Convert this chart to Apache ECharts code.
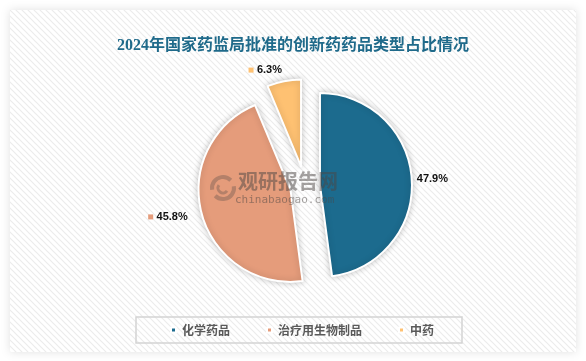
<!DOCTYPE html>
<html><head><meta charset="utf-8">
<script src="https://cdn.jsdelivr.net/npm/echarts@6/dist/echarts.min.js"></script>
<style>html,body{margin:0;padding:0;background:#fff}#c{width:586px;height:361px}</style>
</head><body><div id="c"></div>
<script>
const categories = ['化学药品', '治疗用生物制品', '中药'];
const shares = [47.9, 45.8, 6.3];
const colors = ['#1c6b8e', '#e59c7b', '#fec172'];
const titleText = '2024年国家药监局批准的创新药药品类型占比情况';

// striped card fill
const pc = document.createElement('canvas');
pc.width = 6; pc.height = 6;
const g = pc.getContext('2d');
g.fillStyle = '#ffffff'; g.fillRect(0, 0, 6, 6);
g.strokeStyle = '#ececec'; g.lineWidth = 1.2;
g.beginPath();
g.moveTo(-1, -1); g.lineTo(7, 7);
g.moveTo(-1, 5); g.lineTo(1, 7);
g.moveTo(5, -1); g.lineTo(7, 1);
g.stroke();

const chart = echarts.init(document.getElementById('c'), null, { renderer: 'canvas' });

function pieData(visibleIdx) {
  return categories.map((name, i) => ({
    name: name,
    value: shares[i],
    selected: visibleIdx.indexOf(i) >= 0,
    itemStyle: visibleIdx.indexOf(i) >= 0 ? { color: colors[i] } : { color: colors[i], opacity: 0 },
    label: { show: visibleIdx.indexOf(i) >= 0 }
  }));
}

const rich = {
  v: { fontFamily: 'Liberation Sans', fontWeight: 'bold', fontSize: 11, color: '#111' },
  m1: { width: 5, height: 5, backgroundColor: colors[1] },
  m2: { width: 5, height: 5, backgroundColor: colors[2] }
};
const labelFmt = p => (p.dataIndex === 0 ? '' : '{m' + p.dataIndex + '|} ') + '{v|' + p.value.toFixed(1) + '%}';
// label nudges (style only)
const labelNudge = { '0-1': [-9, 3], '1-2': [3, -11] };

const baseSeries = {
  type: 'pie',
  center: [305, 186],
  startAngle: 90,
  clockwise: true,
  selectedMode: 'multiple',
  avoidLabelOverlap: false,
  silent: true,
  itemStyle: { borderColor: '#ffffff', borderWidth: 2, shadowBlur: 6, shadowColor: 'rgba(0,0,0,0.22)' },
  label: { position: 'outside', formatter: labelFmt, rich: rich },
  labelLine: { show: false, length: 0, length2: 0 },
  labelLayout: p => {
    const n = labelNudge[p.seriesIndex + '-' + p.dataIndex];
    return n ? { dx: n[0], dy: n[1] } : {};
  },
  emphasis: { disabled: true }
};

const wm = 'rgba(75,70,68,0.5)';
chart.setOption({
  animation: false,
  backgroundColor: '#ffffff',
  graphic: [
    {
      type: 'rect', z: -10, silent: true,
      shape: { x: 10, y: 10, width: 566, height: 342 },
      style: { fill: { image: pc, repeat: 'repeat' }, shadowBlur: 10, shadowColor: 'rgba(0,0,0,0.12)' }
    },
    {
      type: 'arc', z: 100, silent: true,
      shape: { cx: 223, cy: 188, r: 11, startAngle: Math.PI * 0.95, endAngle: Math.PI * 1.75 },
      style: { stroke: 'rgba(120,95,85,0.45)', lineWidth: 4, fill: null }
    },
    {
      type: 'arc', z: 100, silent: true,
      shape: { cx: 223, cy: 188, r: 11, startAngle: Math.PI * -0.05, endAngle: Math.PI * 0.75 },
      style: { stroke: 'rgba(120,95,85,0.45)', lineWidth: 4, fill: null }
    },
    {
      type: 'arc', z: 100, silent: true,
      shape: { cx: 223, cy: 188, r: 5, startAngle: Math.PI * 0.2, endAngle: Math.PI * 1.2 },
      style: { stroke: 'rgba(120,95,85,0.45)', lineWidth: 3, fill: null }
    },
    {
      type: 'text', z: 100, silent: true, left: 238, top: 171,
      style: { text: '观研报告网', font: 'bold 20px "Noto Sans CJK SC"', fill: wm }
    },
    {
      type: 'text', z: 100, silent: true, left: 235, top: 195,
      style: { text: 'chinabaogao.com', font: '11px "DejaVu Sans Mono"', fill: wm }
    }
  ],
  title: {
    text: titleText,
    left: 'center',
    top: 33,
    textStyle: { fontFamily: '"Liberation Serif", "Noto Sans CJK SC"', fontWeight: 'bold', fontSize: 16, color: '#1f6a8a' }
  },
  legend: {
    left: 136, top: 317,
    padding: [7, 28, 7, 34],
    borderColor: '#d4d4d4', borderWidth: 1.5,
    itemWidth: 5, itemHeight: 5, itemGap: 36,
    icon: 'rect',
    selectedMode: false,
    textStyle: { fontFamily: '"Noto Sans CJK SC"', fontWeight: 'bold', fontSize: 12, color: '#595959', padding: [0, 0, 0, 1] },
    data: categories.map((n, i) => ({ name: n, itemStyle: { color: colors[i], opacity: 1 } }))
  },
  series: [
    Object.assign({}, baseSeries, { radius: 92, selectedOffset: 15, data: pieData([0, 1]) }),
    Object.assign({}, baseSeries, { radius: 87, selectedOffset: 20, data: pieData([2]) })
  ]
});
</script>
</body></html>
